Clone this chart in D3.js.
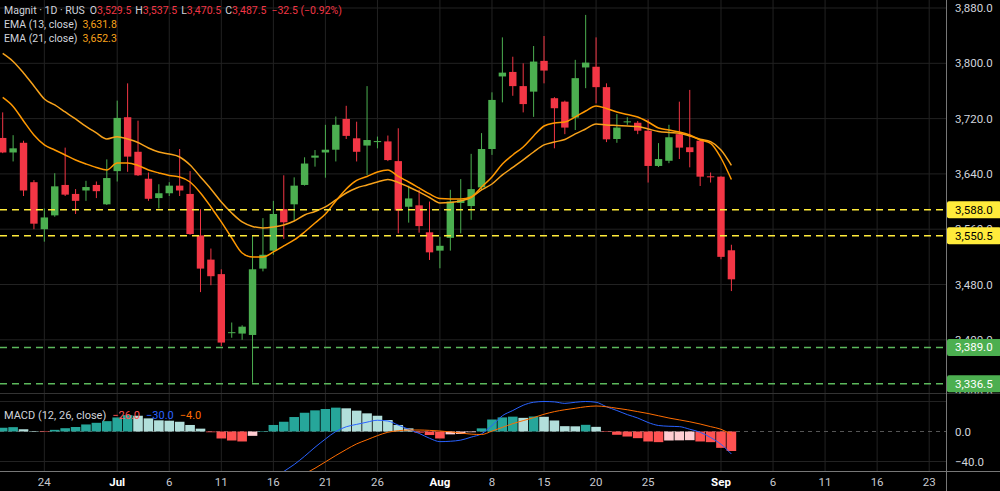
<!DOCTYPE html>
<html>
<head>
<meta charset="utf-8">
<script src="https://cdn.jsdelivr.net/npm/d3@7"></script>
<style>
html, body { margin: 0; padding: 0; background: #000; }
svg { display: block; font-family: Roboto, "Noto Sans", sans-serif; }
</style>
</head>
<body>
<svg id="chart" width="1000" height="491"></svg>
<script>
// daily candles, one per bar
let opens  = [3692,3671,3685,3628,3560,3580,3624,3611,3616,3624,3596,3644,3722,3672,3633,3605,3612,3623,3611,3551,
              3516,3495,3410,3409,3407,3503,3529,3589,3596,3624,3663.5,3671,3675,3719.5,3691.5,3681,3686,3687,3658.5,3592.5,
              3594.5,3555.5,3529,3547.5,3598,3593.5,3620.5,3676,3781,3787.5,3767,3759,3803.5,3749.5,3744.5,3721.5,3794,3795,3765.5,3690.5,
              3715.5,3714,3702.5,3651.5,3659,3697.5,3678.5,3688,3636.5,3636,3529.5]
let highs  = [3729,3696,3688,3631,3590,3641,3678,3618,3630,3629,3661,3746,3771,3717,3642,3625,3628,3676,3644,3589,
              3532,3502,3425,3421,3551,3576,3601,3638,3635,3664,3674.5,3711,3723,3738.5,3715.5,3767,3694,3695.5,3706,3623,
              3617,3600,3549,3617,3632.5,3669,3699,3758,3837.5,3809.5,3800,3825,3839.5,3751,3746,3805,3870,3837.5,3771,3726.5,
              3722,3716.5,3719,3684.5,3711,3744.5,3761.5,3690.5,3642,3636.5,3537.5]
let lows   = [3670,3658,3608,3560,3542,3578,3608,3582,3601,3605,3595,3629,3643,3637,3601,3590,3608,3608,3552,3469,
              3479,3391,3403,3400,3338,3499,3523,3546,3573,3623,3650.5,3634.5,3658,3690.5,3658,3638.5,3677,3658.5,3554,3569.5,
              3555,3515.5,3503.5,3529,3554,3573.5,3617,3667.5,3743.5,3753,3729,3722.5,3771,3677,3697.5,3703.5,3764,3742,3686,3685,
              3711,3697.5,3627.5,3650,3655.5,3661.5,3649.5,3622.5,3627.5,3516.5,3470.5]
let closes = [3671,3677,3616,3568,3577,3622,3610,3601,3621,3615,3634,3721,3665,3638,3604,3612,3623,3616,3553,3503,
              3492,3396,3411,3419,3502,3523,3582,3570,3623,3655,3666.5,3675,3711,3695,3672,3689,3687.5,3660,3587,3604.5,
              3564.5,3526.5,3536,3600,3602.5,3618,3676,3747,3786.5,3767,3741,3802.5,3789.5,3735,3707,3778.5,3801,3765.5,3690,3707,
              3716,3702.5,3651.5,3661.5,3693,3678,3671.5,3636,3635.5,3520,3487.5]

// EMA lines as drawn on the chart
let ema13 = [3750.6,3737.6,3716.6,3696.3,3681.9,3674.6,3667.4,3660.2,3654.4,3649.3,3645.7,3655.8,3655.8,3652.2,3645.7,3641.4,3637.7,3635.6,3628.3,3612.4,
             3592.2,3570.5,3547.3,3525.6,3519.8,3519.8,3527.1,3535.8,3544.4,3556,3569,3582,3600.9,3618.2,3630.5,3636.3,3642.8,3645.7,3636.3,3628.3,
             3619.7,3611,3604.5,3603.8,3603.8,3606.6,3621.1,3635.6,3654.4,3667.4,3679,3694.9,3709.3,3713.7,3715.1,3722.4,3731,3738.3,3734.7,3729.6,
             3726,3722.4,3715.1,3706.4,3703.5,3700.7,3696.3,3689.1,3684.3,3663,3631.8]
let ema21 = [3814.2,3802.6,3786,3767.2,3748.4,3739.7,3729.6,3719.5,3708.6,3699.2,3690.5,3693.9,3690.5,3685.5,3677.5,3671.7,3668.8,3664.5,3652.9,3635.6,
             3618.2,3599.4,3583.5,3570.5,3564,3561.8,3563.2,3566.1,3571.9,3580.6,3585.7,3592.2,3602.3,3612.4,3619.7,3624,3628.3,3632,3627.6,3621.1,
             3613.9,3605.9,3598,3598.7,3600.9,3605.9,3616.8,3625.4,3638.5,3649.3,3660.2,3671.7,3681.9,3686.2,3689.8,3697.8,3705,3712.2,3710.8,3710.1,
             3709.3,3708.6,3705,3701.4,3699.9,3698.8,3694.9,3690.1,3686.6,3674.6,3652.3]

// MACD (12, 26, close)
let macdHist = [5,5.8,3,0.5,-0.7,2.2,4.4,6,9.4,11.6,13.8,18.7,21.8,21,17.5,14.9,14.4,13,8.7,3.8,
                -1,-9.3,-12,-13.3,-5.8,0.4,8.7,13,19.3,25,28.2,30,31.8,30.9,27.8,24.2,21,15.3,8.7,4.2,
                -1.5,-4.7,-9.3,-3.8,-3.3,-1,4.2,16,18.8,19.8,18.2,20,19.6,14.7,7.1,6.9,8.9,6.2,-0.4,-4.4,
                -6.7,-8.9,-13.3,-14.2,-12,-11.8,-11.6,-13.3,-14.2,-21.8,-26]
let macdLine = [-78,-76,-77,-79,-80,-78,-76,-73,-70,-67,-64,-60,-57,-57,-58,-57,-55,-53.5,-56,-62,
                -70,-84,-94,-100,-96,-88,-64,-53.3,-44,-33,-21,-10,0,6.3,9.5,12.5,15,14,8.5,3,
                -2.5,-9,-13.5,-13,-11.5,-7.5,-3,8,21,28,35,39,40,39.5,37.5,39,40,39,33,28,
                22.5,18,12,8,7,6.5,3,-1,-8,-17,-30]
let signalLine = [-83,-82,-80,-79.5,-79.3,-80.2,-80.4,-79,-79.4,-78.6,-77.8,-78.7,-78.8,-78,-75.5,-71.9,-69.4,-66.5,-64.7,-65.8,
                  -69,-74.7,-82,-86.7,-84.2,-78.4,-72.7,-66.3,-63.3,-56.5,-49,-40.5,-32,-24,-16.5,-11,-5.5,-1,1,2,
                  2,1.5,0.7,-0.5,-2,-3.5,-4,0.5,5.5,10.5,14.5,18.5,23,26.5,29,31,33,34,33,31,
                  29,26.5,24,21,18,15.5,13,10,6.5,3,-4]

// time axis labels and the bar they sit on (future bars continue the spacing)
let tickBars   = [4,11,16,21,26,31,36,42,47,52,57,62,69,74,79,84,89]
let tickLabels = ["24","Jul","6","11","16","21","26","Aug","8","15","20","25","Sep","6","11","16","23"]

let priceTicks = [3320,3400,3480,3560,3640,3720,3800,3880]
let macdTicks  = [-40,0,40]
let levelValues = [3588.0,3550.5,3389.0,3336.5]

let upColor = '#4caf50', downColor = '#f23645'
let axisRight = 946.5
let pricePane = {top: 0, bottom: 393.5}
let macdPane = {top: 394, bottom: 471.5}

let svg = d3.select('#chart')
svg.append('rect').attr('width', 1000).attr('height', 491).attr('fill', '#000')

let x = d3.scaleLinear().domain([0, 70]).range([2.7, 731.4])
let y = d3.scaleLinear().domain([3320, 3880]).range([395.1, 8])
let ym = d3.scaleLinear().domain([-40, 40]).range([461.5, 401.5])
let fmt = d3.format(',.1f')

let defs = svg.append('defs')
defs.append('clipPath').attr('id', 'clipPrice').append('rect')
    .attr('x', 0).attr('y', pricePane.top).attr('width', axisRight).attr('height', pricePane.bottom - pricePane.top)
defs.append('clipPath').attr('id', 'clipMacd').append('rect')
    .attr('x', 0).attr('y', macdPane.top).attr('width', axisRight).attr('height', macdPane.bottom - macdPane.top)
defs.append('clipPath').attr('id', 'clipPriceAxis').append('rect')
    .attr('x', axisRight).attr('y', 0).attr('width', 60).attr('height', pricePane.bottom)

// grid
let grid = svg.append('g')
grid.selectAll('line.v').data(tickBars).join('line')
    .attr('x1', d => x(d)).attr('x2', d => x(d)).attr('y1', 0).attr('y2', macdPane.bottom)
    .attr('stroke', '#222').attr('stroke-width', 1)
grid.append('g').attr('clip-path', 'url(#clipPrice)')
    .selectAll('line').data(priceTicks).join('line')
    .attr('x1', 0).attr('x2', axisRight).attr('y1', d => y(d)).attr('y2', d => y(d))
    .attr('stroke', '#222').attr('stroke-width', 1)
grid.selectAll('line.m').data(macdTicks).join('line')
    .attr('x1', 0).attr('x2', axisRight).attr('y1', d => ym(d)).attr('y2', d => ym(d))
    .attr('stroke', d => d === 0 ? '#555' : '#222')
    .attr('stroke-dasharray', d => d === 0 ? '4,4' : null)

// candles
let candles = svg.append('g').attr('clip-path', 'url(#clipPrice)')
let idx = d3.range(opens.length)
let colorOf = i => closes[i] >= opens[i] ? upColor : downColor
candles.selectAll('line').data(idx).join('line')
    .attr('x1', i => x(i)).attr('x2', i => x(i))
    .attr('y1', i => y(highs[i])).attr('y2', i => y(lows[i]))
    .attr('stroke', colorOf).attr('stroke-width', 1)
candles.selectAll('rect').data(idx).join('rect')
    .attr('x', i => x(i) - 3.7).attr('width', 7.4)
    .attr('y', i => y(Math.max(opens[i], closes[i])))
    .attr('height', i => Math.max(1, Math.abs(y(opens[i]) - y(closes[i]))))
    .attr('fill', colorOf)

// EMA lines
let priceLine = d3.line().x((d, i) => x(i)).y(d => y(d)).curve(d3.curveMonotoneX)
let emaG = svg.append('g').attr('clip-path', 'url(#clipPrice)')
emaG.append('path').attr('d', priceLine(ema21)).attr('fill', 'none').attr('stroke', '#f7a21b').attr('stroke-width', 1.5)
emaG.append('path').attr('d', priceLine(ema13)).attr('fill', 'none').attr('stroke', '#ff9800').attr('stroke-width', 1.5)

// horizontal levels
let lv = svg.append('g').attr('clip-path', 'url(#clipPrice)')
lv.selectAll('line').data(levelValues).join('line')
    .attr('x1', 0).attr('x2', axisRight).attr('y1', d => y(d)).attr('y2', d => y(d))
    .attr('stroke', (d, i) => i < 2 ? '#ffeb3b' : '#5cb85c')
    .attr('stroke-width', 1.5).attr('stroke-dasharray', '7,5')

// MACD pane
let mg = svg.append('g').attr('clip-path', 'url(#clipMacd)')
let histColor = i => {
    let v = macdHist[i], p = i > 0 ? macdHist[i - 1] : v - 1
    if (v >= 0) return v >= p ? '#26a69a' : '#b2dfdb'
    return v < p ? '#ff5252' : '#ffcdd2'
}
mg.selectAll('rect').data(idx).join('rect')
    .attr('x', i => x(i) - 4.8).attr('width', 9.6)
    .attr('y', i => ym(Math.max(0, macdHist[i])))
    .attr('height', i => Math.max(0.5, Math.abs(ym(macdHist[i]) - ym(0))))
    .attr('fill', histColor)
let mLine = d3.line().x((d, i) => x(i)).y(d => ym(d)).curve(d3.curveMonotoneX)
mg.append('path').attr('d', mLine(macdLine)).attr('fill', 'none').attr('stroke', '#2962ff').attr('stroke-width', 1)
mg.append('path').attr('d', mLine(signalLine)).attr('fill', 'none').attr('stroke', '#ff6d00').attr('stroke-width', 1)

// separators
svg.append('line').attr('x1', 0).attr('x2', 1000).attr('y1', 393.5).attr('y2', 393.5).attr('stroke', '#333')
svg.append('line').attr('x1', 0).attr('x2', 1000).attr('y1', 471.5).attr('y2', 471.5).attr('stroke', '#777')
svg.append('line').attr('x1', axisRight).attr('x2', axisRight).attr('y1', 0).attr('y2', 491).attr('stroke', '#777')

// price axis
let pa = svg.append('g').attr('clip-path', 'url(#clipPriceAxis)')
    .attr('font-size', 11.5).attr('fill', '#d1d4dc')
pa.selectAll('text').data(priceTicks).join('text')
    .attr('x', 955).attr('y', d => y(d)).attr('dy', '0.35em').text(d => fmt(d))
let tags = pa.selectAll('g.tag').data(levelValues).join('g')
tags.append('rect').attr('x', axisRight + 0.5).attr('width', 54).attr('y', d => y(d) - 8.5).attr('height', 17)
    .attr('rx', 2).attr('fill', (d, i) => i < 2 ? '#ffeb3b' : '#4caf50')
tags.append('text').attr('x', 955).attr('y', d => y(d)).attr('dy', '0.35em')
    .attr('fill', (d, i) => i < 2 ? '#000' : '#fff').text(d => fmt(d))

// MACD axis
svg.append('g').attr('font-size', 11.5).attr('fill', '#d1d4dc')
    .selectAll('text').data(macdTicks.filter(d => d !== 40)).join('text')
    .attr('x', 955).attr('y', d => ym(d)).attr('dy', '0.35em').text(d => fmt(d))

// time axis
svg.append('g').attr('font-size', 11.5)
    .selectAll('text').data(tickBars).join('text')
    .attr('x', d => x(d)).attr('y', 482).attr('dy', '0.35em').attr('text-anchor', 'middle')
    .attr('fill', (d, i) => isNaN(+tickLabels[i]) ? '#fff' : '#c8cad0')
    .attr('font-weight', (d, i) => isNaN(+tickLabels[i]) ? 'bold' : 'normal')
    .text((d, i) => tickLabels[i])

// legends
let last = opens.length - 1
let chg = closes[last] - closes[last - 1]
let leg = svg.append('g').attr('font-size', 10.5).attr('fill', '#d1d4dc')
let t1 = leg.append('text').attr('x', 4).attr('y', 10).attr('dy', '0.35em')
t1.append('tspan').text('Magnit · 1D · RUS')
let ohlc = [['O', opens[last]], ['H', highs[last]], ['L', lows[last]], ['C', closes[last]]]
ohlc.forEach((p, k) => {
    t1.append('tspan').attr('dx', k === 0 ? 5 : 4).text(p[0])
    t1.append('tspan').attr('fill', downColor).text(fmt(p[1]))
})
t1.append('tspan').attr('dx', 5).attr('fill', downColor)
    .text(fmt(chg) + ' (' + d3.format('.2f')(chg / closes[last - 1] * 100) + '%)')

let t2 = leg.append('text').attr('x', 4).attr('y', 24).attr('dy', '0.35em')
t2.append('tspan').text('EMA (13, close)')
t2.append('tspan').attr('dx', 5).attr('fill', '#f7a21b').text(fmt(ema13[last]))
let t3 = leg.append('text').attr('x', 4).attr('y', 38).attr('dy', '0.35em')
t3.append('tspan').text('EMA (21, close)')
t3.append('tspan').attr('dx', 5).attr('fill', '#f7a21b').text(fmt(ema21[last]))

let t4 = leg.append('text').attr('x', 4).attr('y', 415).attr('dy', '0.35em').attr('font-size', 11)
t4.append('tspan').text('MACD (12, 26, close)')
t4.append('tspan').attr('dx', 6).attr('fill', '#ff5252').text(fmt(macdHist[last]))
t4.append('tspan').attr('dx', 6).attr('fill', '#2962ff').text(fmt(macdLine[last]))
t4.append('tspan').attr('dx', 6).attr('fill', '#ff6d00').text(fmt(signalLine[last]))
</script>
</body>
</html>
